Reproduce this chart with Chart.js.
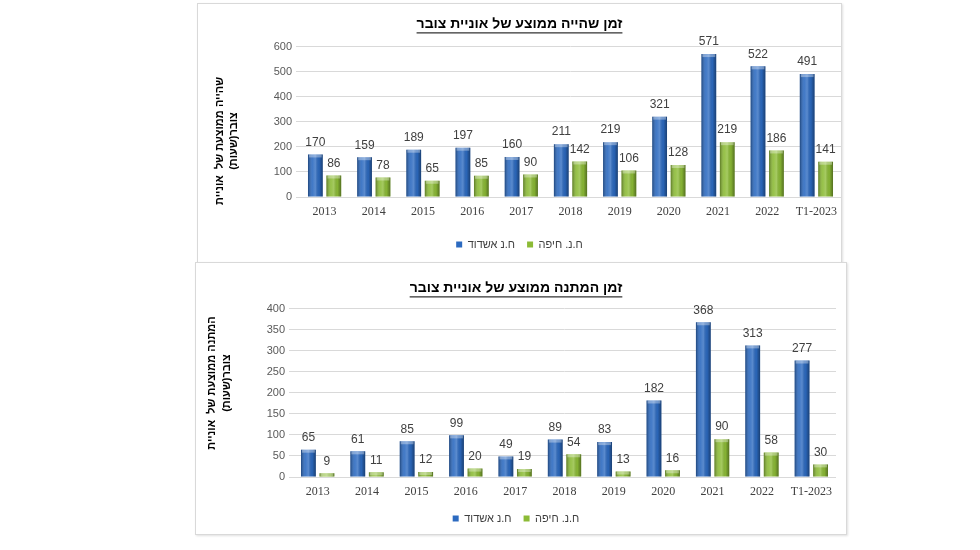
<!DOCTYPE html>
<html>
<head>
<meta charset="utf-8">
<script src="https://cdn.jsdelivr.net/npm/chart.js@4.4.0/dist/chart.umd.min.js"></script>
<style>
  body { margin: 0; background: #fff; width: 980px; height: 550px; overflow: hidden; position: relative; }
  .box { position: absolute; border: 1px solid #d9d9d9; box-shadow: 1px 1px 2px rgba(0,0,0,0.12); background: #fff; }
  #b1 { left: 197px; top: 3px; width: 643px; height: 258px; }
  #b2 { left: 195px; top: 262px; width: 650px; height: 271px; }
  canvas { display: block; }
</style>
</head>
<body>
<div class="box" id="b1"><canvas id="c1" width="643" height="258"></canvas></div>
<div class="box" id="b2"><canvas id="c2" width="650" height="271"></canvas></div>
<script>
const years = ['2013', '2014', '2015', '2016', '2017', '2018', '2019', '2020', '2021', '2022', 'T1-2023'];
const portNames = ['ח.נ אשדוד', 'ח.נ. חיפה'];

// זמן שהייה (שעות)
const stayAshdod = [170, 159, 189, 197, 160, 211, 219, 321, 571, 522, 491];
const stayHaifa = [86, 78, 65, 85, 90, 142, 106, 128, 219, 186, 141];

// זמן המתנה (שעות)
const waitAshdod = [65, 61, 85, 99, 49, 89, 83, 182, 368, 313, 277];
const waitHaifa = [9, 11, 12, 20, 19, 54, 13, 16, 90, 58, 30];

const blue = '#2c6ac0';
const green = '#8cbb36';

// underline under the chart title
const underlineTitle = {
  id: 'underlineTitle',
  afterDraw(chart) {
    const t = chart.titleBlock;
    if (!t) return;
    const o = chart.options.plugins.title;
    const ctx = chart.ctx;
    ctx.save();
    ctx.font = 'bold ' + o.font.size + 'px ' + o.font.family;
    const w = ctx.measureText(o.text).width;
    const cx = (t.left + t.right) / 2;
    const y = t.top + o.padding.top + o.font.size * 0.6 + o.font.size / 2 + 1;
    ctx.fillStyle = '#000';
    ctx.fillRect(cx - w / 2, y, w, 1);
    ctx.restore();
  }
};

// rotated, two line y axis title
const yTitle = {
  id: 'yTitle',
  afterDraw(chart, args, opts) {
    const ctx = chart.ctx;
    ctx.save();
    ctx.font = 'bold 11px "Liberation Sans", Arial, sans-serif';
    ctx.fillStyle = '#000';
    ctx.textAlign = 'center';
    ctx.textBaseline = 'middle';
    ctx.direction = 'rtl';
    opts.lines.forEach((line, i) => {
      ctx.save();
      ctx.translate(opts.xs[i], opts.y);
      ctx.rotate(-Math.PI / 2);
      ctx.fillText(line, 0, 0);
      ctx.restore();
    });
    ctx.restore();
  }
};

// cylinder-ish shading and value labels on the bars
const barExtras = {
  id: 'barExtras',
  afterDatasetsDraw(chart) {
    const ctx = chart.ctx;
    ctx.save();
    chart.data.datasets.forEach((ds, di) => {
      const meta = chart.getDatasetMeta(di);
      meta.data.forEach((bar) => {
        const left = bar.x - bar.width / 2;
        const g = ctx.createLinearGradient(left, 0, left + bar.width, 0);
        g.addColorStop(0, 'rgba(0,0,0,0.35)');
        g.addColorStop(0.3, 'rgba(255,255,255,0.10)');
        g.addColorStop(0.5, 'rgba(255,255,255,0.22)');
        g.addColorStop(0.75, 'rgba(0,0,0,0.05)');
        g.addColorStop(1, 'rgba(0,0,0,0.40)');
        ctx.fillStyle = g;
        ctx.fillRect(left, bar.y, bar.width, bar.base - bar.y);
        ctx.fillStyle = 'rgba(255,255,255,0.35)';
        ctx.fillRect(left + 1, bar.y, bar.width - 2, Math.min(3, bar.base - bar.y));
      });
    });
    ctx.font = '12px "Liberation Sans", Arial, sans-serif';
    ctx.fillStyle = '#404040';
    ctx.textAlign = 'center';
    ctx.textBaseline = 'bottom';
    chart.data.datasets.forEach((ds, di) => {
      chart.getDatasetMeta(di).data.forEach((bar, i) => {
        ctx.fillText(ds.data[i], bar.x, bar.y - 6);
      });
    });
    ctx.restore();
  }
};

function makeChart(id, title, yLines, ashdod, haifa, yMax, yStep, lay) {
  return new Chart(document.getElementById(id), {
    type: 'bar',
    data: {
      labels: years,
      datasets: [
        { label: portNames[0], data: ashdod, backgroundColor: blue },
        { label: portNames[1], data: haifa, backgroundColor: green }
      ]
    },
    options: {
      responsive: false,
      animation: false,
      categoryPercentage: 0.75,
      barPercentage: 0.8,
      layout: { padding: { left: 0, right: lay.right, top: 0, bottom: lay.bottom } },
      scales: {
        x: {
          grid: { display: false, drawTicks: true, tickLength: 8 },
          border: { display: false },
          ticks: { color: '#404040', padding: 0, font: { family: '"Liberation Serif", serif', size: 12 } },
          afterFit(s) { s.height = lay.xh; }
        },
        y: {
          min: 0, max: yMax,
          grid: { color: '#d9d9d9', tickLength: 4 },
          border: { display: false },
          ticks: { stepSize: yStep, color: '#595959', padding: 4, font: { family: '"Liberation Sans", Arial, sans-serif', size: 11 } },
          afterFit(s) { s.width = lay.yw; }
        }
      },
      plugins: {
        title: {
          display: true, text: title, color: '#000',
          font: { family: '"Liberation Sans", Arial, sans-serif', size: 14, weight: 'bold' },
          padding: { top: lay.tTop, bottom: lay.tBottom }
        },
        legend: {
          position: 'bottom',
          labels: { boxWidth: 6, boxHeight: 6, padding: 12, color: '#404040', font: { family: '"Liberation Sans", Arial, sans-serif', size: 11 } }
        },
        tooltip: { enabled: false },
        yTitle: { lines: yLines, xs: lay.yTitleX, y: lay.yTitleY }
      }
    },
    plugins: [underlineTitle, yTitle, barExtras]
  });
}

makeChart('c1', 'זמן שהייה ממוצע של אוניית צובר',
  ['שהייה ממוצעת של  אוניית', 'צובר(שעות)'],
  stayAshdod, stayHaifa, 600, 100,
  { right: 0, bottom: 2, xh: 30, yw: 102, tTop: 12, tBottom: 14, yTitleX: [22, 36], yTitleY: 137 });

makeChart('c2', 'זמן המתנה ממוצע של אוניית צובר',
  ['המתנה ממוצעת של  אוניית', 'צובר(שעות)'],
  waitAshdod, waitHaifa, 400, 50,
  { right: 10, bottom: 0, xh: 24, yw: 97, tTop: 17, tBottom: 12, yTitleX: [16, 31], yTitleY: 120 });
</script>
</body>
</html>
